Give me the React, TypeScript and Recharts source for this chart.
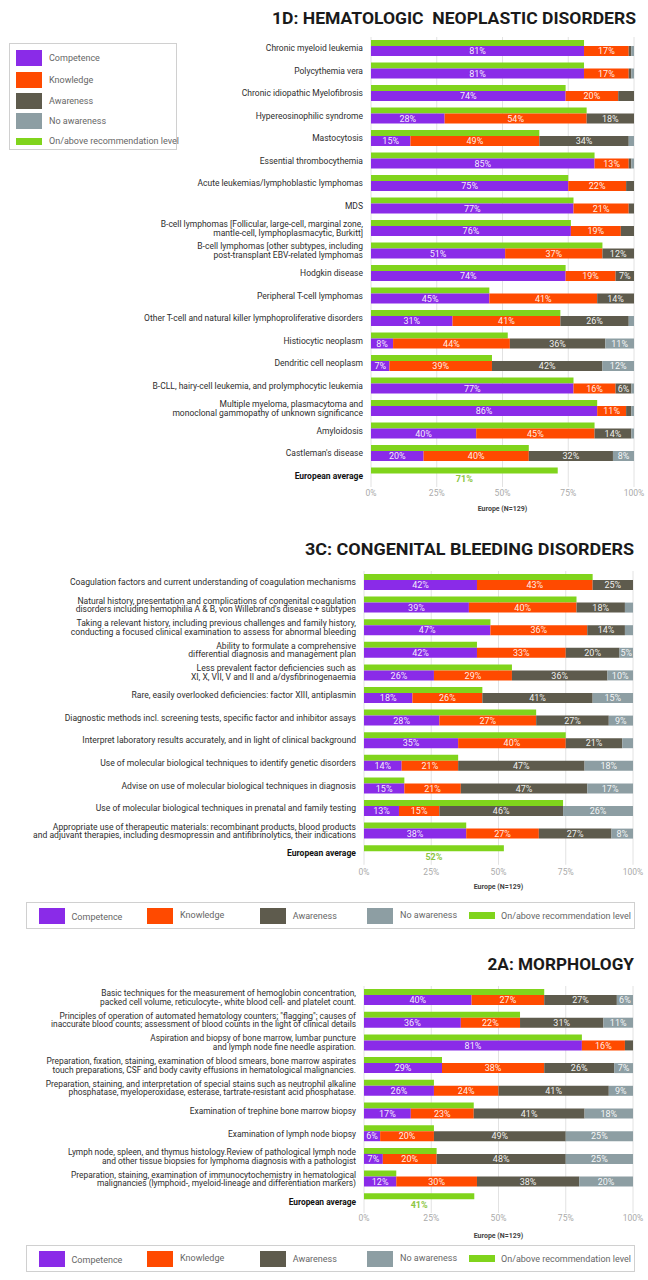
import React from 'react';
import { BarChart, Bar, XAxis, YAxis, CartesianGrid, LabelList } from 'recharts';

const FONT = 'Roboto, "Noto Sans", sans-serif';
const COLORS = { c: '#8a2be8', k: '#ff4a00', a: '#5e5b4d', n: '#8d9ea3', g: '#80d41c' };
const TICKS = [0, 25, 50, 75, 100];
const AVG = 'European average';

// ---------- 1D: Hematologic neoplastic disorders ----------
const p1Categories = [
  'Chronic myeloid leukemia',
  'Polycythemia vera',
  'Chronic idiopathic Myelofibrosis',
  'Hypereosinophilic syndrome',
  'Mastocytosis',
  'Essential thrombocythemia',
  'Acute leukemias/lymphoblastic lymphomas',
  'MDS',
  'B-cell lymphomas [Follicular, large-cell, marginal zone,\nmantle-cell, lymphoplasmacytic, Burkitt]',
  'B-cell lymphomas [other subtypes, including\npost-transplant EBV-related lymphomas',
  'Hodgkin disease',
  'Peripheral T-cell lymphomas',
  'Other T-cell and natural killer lymphoproliferative disorders',
  'Histiocytic neoplasm',
  'Dendritic cell neoplasm',
  'B-CLL, hairy-cell leukemia, and prolymphocytic leukemia',
  'Multiple myeloma, plasmacytoma and\nmonoclonal gammopathy of unknown significance',
  'Amyloidosis',
  "Castleman's disease",
  AVG,
];
const p1Competence = [81, 81, 74, 28, 15, 85, 75, 77, 76, 51, 74, 45, 31, 8.4, 7, 77, 86, 40, 20, 0];
const p1Knowledge = [17, 17, 20, 54, 49, 13, 22, 21, 19, 37, 19, 41, 41, 44.4, 39, 16, 11, 45, 40, 0];
const p1Awareness = [1, 1, 6, 18, 34, 1, 3, 2, 5, 12, 7, 14, 26, 36.3, 42, 6, 2, 14, 32, 0];
const p1NoAwareness = [1, 1, 0, 0, 2, 1, 0, 0, 0, 0, 0, 0, 2, 10.9, 12, 1, 1, 1, 8, 0];
const p1Recommended = [81, 81, 74, 82, 64, 85, 75, 77, 76, 88, 74, 45, 72, 52, 46, 77, 86, 85, 60, 71];
const p1LabelOverrides = [
  { row: 2, key: 'a', text: '' },
  { row: 8, key: 'a', text: '' },
];

// ---------- 3C: Congenital bleeding disorders ----------
const p2Categories = [
  'Coagulation factors and current understanding of coagulation mechanisms',
  "Natural history, presentation and complications of congenital coagulation\ndisorders including hemophilia A & B, von Willebrand's disease + subtypes",
  'Taking a relevant history, including previous challenges and family history,\nconducting a focused clinical examination to assess for abnormal bleeding',
  'Ability to formulate a comprehensive\ndifferential diagnosis and management plan',
  'Less prevalent factor deficiencies such as\nXI, X, VII, V and II and a/dysfibrinogenaemia',
  'Rare, easily overlooked deficiencies: factor XIII, antiplasmin',
  'Diagnostic methods incl. screening tests, specific factor and inhibitor assays',
  'Interpret laboratory results accurately, and in light of clinical background',
  'Use of molecular biological techniques to identify genetic disorders',
  'Advise on use of molecular biological techniques in diagnosis',
  'Use of molecular biological techniques in prenatal and family testing',
  'Appropriate use of therapeutic materials: recombinant products, blood products\nand adjuvant therapies, including desmopressin and antifibrinolytics, their indications',
  AVG,
];
const p2Competence = [42, 39, 47, 42, 26, 18, 28, 35, 14, 15, 13, 38, 0];
const p2Knowledge = [43, 40, 36, 33, 29, 26, 36, 40, 21, 21, 15, 27, 0];
const p2Awareness = [15, 18, 14, 20, 35.5, 41, 27, 21, 47, 47, 46, 27, 0];
const p2NoAwareness = [0, 3, 3, 5, 9.5, 15, 9, 4, 18, 17, 26, 8, 0];
const p2Recommended = [85, 79, 47, 42, 55, 44, 64, 75, 35, 15, 74, 38, 52];
const p2LabelOverrides = [
  { row: 0, key: 'a', text: '25%' },
  { row: 6, key: 'k', text: '27%' },
];

// ---------- 2A: Morphology ----------
const p3Categories = [
  'Basic techniques for the measurement of hemoglobin concentration,\npacked cell volume, reticulocyte-, white blood cell- and platelet count.',
  'Principles of operation of automated hematology counters; "flagging"; causes of\ninaccurate blood counts; assessment of blood counts in the light of clinical details',
  'Aspiration and biopsy of bone marrow, lumbar puncture\nand lymph node fine needle aspiration.',
  'Preparation, fixation, staining, examination of blood smears, bone marrow aspirates\ntouch preparations, CSF and body cavity effusions in hematological malignancies.',
  'Preparation, staining, and interpretation of special stains such as neutrophil alkaline\nphosphatase, myeloperoxidase, esterase, tartrate-resistant acid phosphatase.',
  'Examination of trephine bone marrow biopsy',
  'Examination of lymph node biopsy',
  'Lymph node, spleen, and thymus histology.Review of pathological lymph node\nand other tissue biopsies for lymphoma diagnosis with a pathologist',
  'Preparation, staining, examination of immunocytochemistry in hematological\nmalignancies (lymphoid-, myeloid-lineage and differentiation markers)',
  AVG,
];
const p3Competence = [40, 36, 81, 29, 26, 17.4, 6, 7, 12, 0];
const p3Knowledge = [27, 22, 16, 38, 24, 23.4, 20, 20, 30, 0];
const p3Awareness = [27, 31, 3, 26, 41, 41.2, 49, 48, 38, 0];
const p3NoAwareness = [6, 11, 0, 7, 9, 18, 25, 25, 20, 0];
const p3Recommended = [67, 58, 81, 29, 26, 40.8, 26, 27, 12, 41];
const p3LabelOverrides: { row: number; key: string; text: string }[] = [];

const LEGEND_ITEMS = [
  { key: 'c', label: 'Competence' },
  { key: 'k', label: 'Knowledge' },
  { key: 'a', label: 'Awareness' },
  { key: 'n', label: 'No awareness' },
  { key: 'g', label: 'On/above recommendation level' },
];

function buildRows(cats, c, k, a, n, g, overrides) {
  return cats.map((name, i) => {
    const lab = (key, v) => {
      const o = overrides.find((x) => x.row === i && x.key === key);
      if (o) return o.text;
      return v >= 5 ? `${Math.round(v)}%` : '';
    };
    return {
      name,
      c: c[i], k: k[i], a: a[i], n: n[i], g: g[i],
      cL: lab('c', c[i]), kL: lab('k', k[i]), aL: lab('a', a[i]), nL: lab('n', n[i]),
      gL: name === AVG ? `${Math.round(g[i])}%` : '',
    };
  });
}

const makeCatTick = (fontSize: number) => (props: any) => {
  const { x, y, payload } = props;
  const value: string = payload.value;
  const lines = value.split('\n');
  const isAvg = value === AVG;
  const lh = 8.6;
  const start = -((lines.length - 1) * lh) / 2;
  return (
    <text
      x={x}
      y={y}
      textAnchor="end"
      fontFamily={FONT}
      fontSize={fontSize}
      fontWeight={isAvg ? 700 : 400}
      fill={isAvg ? '#111' : '#2e2e2e'}
    >
      {lines.map((l, i) => (
        <tspan key={i} x={x} dy={i === 0 ? start + 3 : lh}>
          {l}
        </tspan>
      ))}
    </text>
  );
};

const InsideLabel = (props: any) => {
  const { x, y, width, height, value } = props;
  if (!value) return null;
  return (
    <text
      x={x + width / 2}
      y={y + height / 2}
      dy="0.36em"
      textAnchor="middle"
      fill="#ffffff"
      fillOpacity={0.92}
      fontFamily={FONT}
      fontSize={9}
    >
      {value}
    </text>
  );
};

const AvgLabel = (props: any) => {
  const { x, y, width, height, value } = props;
  if (!value) return null;
  return (
    <text
      x={x + width / 2}
      y={y + height + 5.5}
      dy="0.36em"
      textAnchor="middle"
      fill="#8cc63f"
      fontFamily={FONT}
      fontWeight={700}
      fontSize={9}
    >
      {value}
    </text>
  );
};

function Panel({ rows, plotTop, pitch, plotLeft, plotRight, tickMargin, labelSize }) {
  const topPad = 6;
  const axisH = 22;
  const h = topPad + rows.length * pitch + axisH;
  const Tick = makeCatTick(labelSize);
  return (
    <div style={{ position: 'absolute', left: 0, top: plotTop - topPad }}>
      <BarChart
        width={648}
        height={h}
        data={rows}
        layout="vertical"
        margin={{ top: topPad, right: 648 - plotRight, bottom: 0, left: 0 }}
        barGap={0}
      >
        <CartesianGrid horizontal={false} stroke="#e2e2e2" />
        <XAxis
          type="number"
          domain={[0, 100]}
          ticks={TICKS}
          interval={0}
          tickFormatter={(v) => `${v}%`}
          axisLine={false}
          tickLine={false}
          tickSize={0}
          tickMargin={tickMargin}
          height={axisH}
          tick={{ fontSize: 8.5, fill: '#aaaaaa', fontFamily: FONT }}
        />
        <YAxis
          type="category"
          dataKey="name"
          width={plotLeft}
          axisLine={false}
          tickLine={false}
          interval={0}
          tick={<Tick />}
        />
        <Bar dataKey="g" stackId="g" fill={COLORS.g} barSize={6} isAnimationActive={false}>
          <LabelList dataKey="gL" content={AvgLabel} />
        </Bar>
        <Bar dataKey="c" stackId="s" fill={COLORS.c} barSize={10} isAnimationActive={false}>
          <LabelList dataKey="cL" content={InsideLabel} />
        </Bar>
        <Bar dataKey="k" stackId="s" fill={COLORS.k} barSize={10} isAnimationActive={false}>
          <LabelList dataKey="kL" content={InsideLabel} />
        </Bar>
        <Bar dataKey="a" stackId="s" fill={COLORS.a} barSize={10} isAnimationActive={false}>
          <LabelList dataKey="aL" content={InsideLabel} />
        </Bar>
        <Bar dataKey="n" stackId="s" fill={COLORS.n} barSize={10} isAnimationActive={false}>
          <LabelList dataKey="nL" content={InsideLabel} />
        </Bar>
      </BarChart>
    </div>
  );
}

const swatchStyle = (key, green) => ({
  position: 'absolute' as const,
  width: 26,
  height: green ? 7 : 16,
  background: COLORS[key],
});

function VerticalLegend() {
  const ys = [57, 78.5, 99.5, 120, 140];
  return (
    <div
      style={{
        position: 'absolute', left: 9, top: 43, width: 168, height: 107,
        border: '1px solid #d0d0d0', boxSizing: 'border-box', background: '#fff',
      }}
    >
      {LEGEND_ITEMS.map((it, i) => {
        const green = it.key === 'g';
        const h = green ? 7 : 16;
        return (
          <React.Fragment key={it.key}>
            <div style={{ ...swatchStyle(it.key, green), left: 6, top: ys[i] - 43 - h / 2 }} />
            <div
              style={{
                position: 'absolute', left: 39, top: ys[i] - 43 - 6, height: 12, lineHeight: '12px',
                fontFamily: FONT, fontSize: 9, color: '#666', whiteSpace: 'nowrap',
              }}
            >
              {it.label}
            </div>
          </React.Fragment>
        );
      })}
    </div>
  );
}

function HorizontalLegend({ top }) {
  const sx = [38, 146, 258.5, 366, 468];
  const lx = [70.5, 179, 291.7, 399, 500];
  const dy = [1, -1, 0, -1, 0];
  return (
    <div
      style={{
        position: 'absolute', left: 26, top, width: 609, height: 27,
        border: '1px solid #d0d0d0', boxSizing: 'border-box', background: '#fff',
      }}
    >
      {LEGEND_ITEMS.map((it, i) => {
        const green = it.key === 'g';
        const h = green ? 7 : 16;
        return (
          <React.Fragment key={it.key}>
            <div style={{ ...swatchStyle(it.key, green), left: sx[i] - 26, top: 13.5 - h / 2 - 1 }} />
            <div
              style={{
                position: 'absolute', left: lx[i] - 26, top: 13.5 - 6 - 1 + dy[i], height: 12, lineHeight: '12px',
                fontFamily: FONT, fontSize: 9, color: '#666', whiteSpace: 'nowrap',
              }}
            >
              {it.label}
            </div>
          </React.Fragment>
        );
      })}
    </div>
  );
}

const p1Rows = buildRows(p1Categories, p1Competence, p1Knowledge, p1Awareness, p1NoAwareness, p1Recommended, p1LabelOverrides);
const p2Rows = buildRows(p2Categories, p2Competence, p2Knowledge, p2Awareness, p2NoAwareness, p2Recommended, p2LabelOverrides);
const p3Rows = buildRows(p3Categories, p3Competence, p3Knowledge, p3Awareness, p3NoAwareness, p3Recommended, p3LabelOverrides);

const TITLES = [
  { text: '1D: HEMATOLOGIC  NEOPLASTIC DISORDERS', x: 272, y: 23.5, len: 364 },
  { text: '3C: CONGENITAL BLEEDING DISORDERS', x: 305, y: 554.5, len: 329 },
  { text: '2A: MORPHOLOGY', x: 487.5, y: 970, len: 146.5 },
];
const AXIS_TITLES = [
  { x: 502.5, y: 511 },
  { x: 498.5, y: 889 },
  { x: 498.5, y: 1237.5 },
];

export default function App() {
  return (
    <div style={{ position: 'absolute', left: 0, top: 0, width: 648, height: 1280, background: '#fff', overflow: 'hidden' }}>
      <Panel rows={p1Rows} plotTop={37.25} pitch={22.5} plotLeft={371} plotRight={634} tickMargin={2.5} labelSize={8.5} />
      <Panel rows={p2Rows} plotTop={570.7} pitch={22.6} plotLeft={364} plotRight={633} tickMargin={4} labelSize={8.6} />
      <Panel rows={p3Rows} plotTop={986.15} pitch={22.7} plotLeft={364} plotRight={633} tickMargin={2} labelSize={8.4} />
      <VerticalLegend />
      <HorizontalLegend top={902} />
      <HorizontalLegend top={1245} />
      <svg width={648} height={1280} style={{ position: 'absolute', left: 0, top: 0, pointerEvents: 'none' }}>
        {TITLES.map((t) => (
          <text
            key={t.text}
            x={t.x}
            y={t.y}
            textLength={t.len}
            lengthAdjust="spacingAndGlyphs"
            fontFamily={FONT}
            fontWeight={700}
            fontSize={17}
            fill="#1a1a1a"
            style={{ whiteSpace: 'pre' }}
          >
            {t.text}
          </text>
        ))}
        {AXIS_TITLES.map((a, i) => (
          <text key={i} x={a.x} y={a.y} textAnchor="middle" fontFamily={FONT} fontWeight={700} fontSize={7} fill="#444">
            Europe (N=129)
          </text>
        ))}
      </svg>
    </div>
  );
}
